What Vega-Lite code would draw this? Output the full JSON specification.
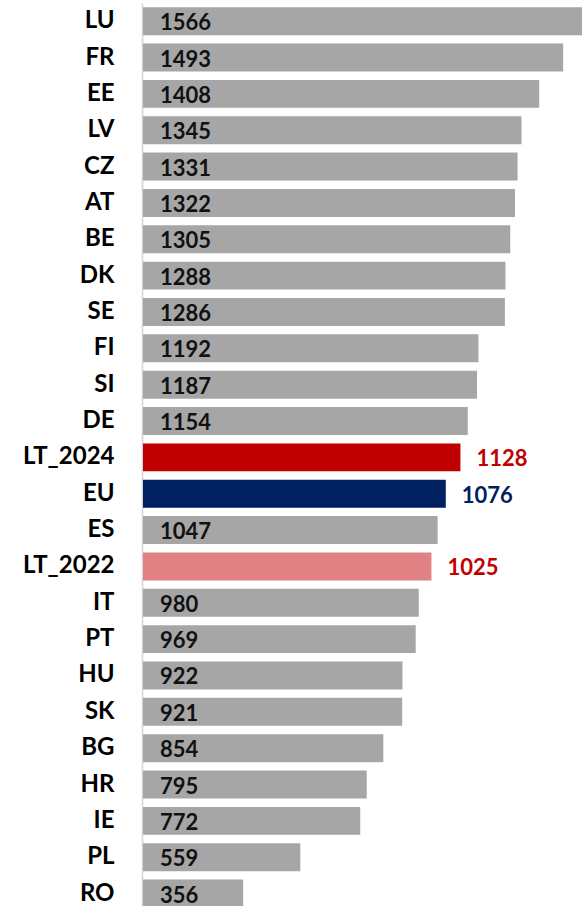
{
  "$schema": "https://vega.github.io/schema/vega-lite/v6.json",
  "autosize": "none",
  "width": 439,
  "height": 903,
  "padding": {"left": 143, "top": 3, "right": 0, "bottom": 0},
  "background": "white",
  "config": {"view": {"stroke": null}},
  "data": {
    "values": [
      {"country": "LU", "value": 1566, "group": "other"},
      {"country": "FR", "value": 1493, "group": "other"},
      {"country": "EE", "value": 1408, "group": "other"},
      {"country": "LV", "value": 1345, "group": "other"},
      {"country": "CZ", "value": 1331, "group": "other"},
      {"country": "AT", "value": 1322, "group": "other"},
      {"country": "BE", "value": 1305, "group": "other"},
      {"country": "DK", "value": 1288, "group": "other"},
      {"country": "SE", "value": 1286, "group": "other"},
      {"country": "FI", "value": 1192, "group": "other"},
      {"country": "SI", "value": 1187, "group": "other"},
      {"country": "DE", "value": 1154, "group": "other"},
      {"country": "LT_2024", "value": 1128, "group": "LT_2024"},
      {"country": "EU", "value": 1076, "group": "EU"},
      {"country": "ES", "value": 1047, "group": "other"},
      {"country": "LT_2022", "value": 1025, "group": "LT_2022"},
      {"country": "IT", "value": 980, "group": "other"},
      {"country": "PT", "value": 969, "group": "other"},
      {"country": "HU", "value": 922, "group": "other"},
      {"country": "SK", "value": 921, "group": "other"},
      {"country": "BG", "value": 854, "group": "other"},
      {"country": "HR", "value": 795, "group": "other"},
      {"country": "IE", "value": 772, "group": "other"},
      {"country": "PL", "value": 559, "group": "other"},
      {"country": "RO", "value": 356, "group": "other"}
    ]
  },
  "encoding": {
    "y": {
      "field": "country",
      "type": "nominal",
      "sort": null,
      "scale": {"range": [0, 908.75], "paddingInner": 0.23, "paddingOuter": 0.115},
      "axis": {
        "title": null,
        "ticks": false,
        "domainColor": "#D4D4D4",
        "domainWidth": 1.5,
        "offset": 1,
        "labelPadding": 28,
        "labelFont": "Lato",
        "labelFontSize": 24,
        "labelFontWeight": "bold",
        "labelColor": "#000000"
      }
    }
  },
  "layer": [
    {
      "mark": {"type": "bar", "clip": true},
      "encoding": {
        "x": {
          "field": "value",
          "type": "quantitative",
          "scale": {"domain": [0, 1560], "nice": false, "zero": true},
          "axis": null
        },
        "color": {
          "field": "group",
          "type": "nominal",
          "scale": {
            "domain": ["other", "LT_2024", "EU", "LT_2022"],
            "range": ["#A6A6A6", "#C00000", "#002060", "#E08283"]
          },
          "legend": null
        }
      }
    },
    {
      "transform": [{"filter": "datum.group === 'other'"}],
      "mark": {
        "type": "text",
        "align": "left",
        "baseline": "middle",
        "dx": 17,
        "dy": 2,
        "font": "Lato",
        "fontSize": 22,
        "fontWeight": "bold",
        "color": "#111111"
      },
      "encoding": {
        "x": {"datum": 0, "type": "quantitative"},
        "text": {"field": "value", "type": "quantitative"}
      }
    },
    {
      "transform": [{"filter": "datum.group === 'LT_2024' || datum.group === 'LT_2022'"}],
      "mark": {
        "type": "text",
        "align": "left",
        "baseline": "middle",
        "dx": 16,
        "dy": 2,
        "font": "Lato",
        "fontSize": 22,
        "fontWeight": "bold",
        "color": "#C00000"
      },
      "encoding": {
        "x": {"field": "value", "type": "quantitative"},
        "text": {"field": "value", "type": "quantitative"}
      }
    },
    {
      "transform": [{"filter": "datum.group === 'EU'"}],
      "mark": {
        "type": "text",
        "align": "left",
        "baseline": "middle",
        "dx": 16,
        "dy": 2,
        "font": "Lato",
        "fontSize": 22,
        "fontWeight": "bold",
        "color": "#002060"
      },
      "encoding": {
        "x": {"field": "value", "type": "quantitative"},
        "text": {"field": "value", "type": "quantitative"}
      }
    }
  ]
}
